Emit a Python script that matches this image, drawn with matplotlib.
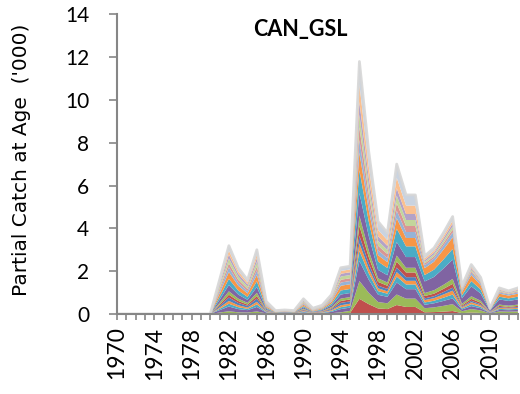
import numpy as np
import matplotlib
matplotlib.use('Agg')
from matplotlib import pyplot as plt

years = list(range(1970, 2014))
# 1970-1980 had no catch recorded
n_zero = 11

# Catch at age ('000), one list per age band for 1981-2013, youngest first
age_1 = [0.02, 0.03, 0.02, 0.02, 0.03, 0.01, 0.0, 0.0, 0.0, 0.01, 0.0, 0.0, 0.01, 0.02, 0.05,
         0.71, 0.46, 0.26, 0.23, 0.42, 0.33, 0.33,
         0.08, 0.09, 0.11, 0.14, 0.04, 0.07, 0.05, 0.01, 0.04, 0.03, 0.04]
age_2 = [0.05, 0.10, 0.06, 0.05, 0.09, 0.02, 0.0, 0.01, 0.0, 0.02, 0.01, 0.01, 0.03, 0.06, 0.10,
         0.83, 0.53, 0.30, 0.27, 0.49, 0.39, 0.39,
         0.19, 0.22, 0.27, 0.32, 0.09, 0.16, 0.12, 0.02, 0.08, 0.08, 0.08]
age_3 = [0.11, 0.22, 0.15, 0.11, 0.21, 0.04, 0.01, 0.01, 0.01, 0.05, 0.02, 0.03, 0.06, 0.15, 0.15,
         0.94, 0.61, 0.34, 0.30, 0.56, 0.44, 0.44,
         0.16, 0.19, 0.23, 0.27, 0.08, 0.14, 0.10, 0.02, 0.07, 0.07, 0.07]
age_4 = [0.06, 0.13, 0.09, 0.06, 0.12, 0.02, 0.01, 0.01, 0.01, 0.03, 0.01, 0.02, 0.04, 0.09, 0.09,
         0.47, 0.30, 0.17, 0.15, 0.28, 0.22, 0.22,
         0.11, 0.12, 0.15, 0.18, 0.05, 0.09, 0.07, 0.01, 0.05, 0.04, 0.05]
age_5 = [0.06, 0.13, 0.09, 0.06, 0.12, 0.02, 0.01, 0.01, 0.01, 0.03, 0.01, 0.02, 0.04, 0.09, 0.09,
         0.35, 0.23, 0.13, 0.11, 0.21, 0.17, 0.17,
         0.11, 0.12, 0.15, 0.18, 0.05, 0.09, 0.07, 0.01, 0.05, 0.04, 0.05]
age_6 = [0.08, 0.16, 0.11, 0.08, 0.15, 0.03, 0.01, 0.01, 0.01, 0.04, 0.01, 0.02, 0.05, 0.11, 0.11,
         0.35, 0.23, 0.13, 0.11, 0.21, 0.17, 0.17,
         0.08, 0.09, 0.11, 0.14, 0.04, 0.07, 0.05, 0.01, 0.04, 0.03, 0.04]
age_7 = [0.06, 0.13, 0.09, 0.06, 0.12, 0.02, 0.01, 0.01, 0.01, 0.03, 0.01, 0.02, 0.04, 0.09, 0.09,
         0.47, 0.30, 0.17, 0.15, 0.28, 0.22, 0.22,
         0.11, 0.12, 0.15, 0.18, 0.05, 0.09, 0.07, 0.01, 0.05, 0.04, 0.05]
age_8 = [0.08, 0.16, 0.11, 0.08, 0.15, 0.03, 0.01, 0.01, 0.01, 0.04, 0.01, 0.02, 0.05, 0.11, 0.11,
         0.47, 0.30, 0.17, 0.15, 0.28, 0.22, 0.22,
         0.14, 0.16, 0.19, 0.23, 0.07, 0.12, 0.09, 0.01, 0.06, 0.06, 0.06]
age_9 = [0.14, 0.29, 0.19, 0.14, 0.27, 0.05, 0.01, 0.02, 0.01, 0.06, 0.02, 0.04, 0.08, 0.19, 0.19,
         1.06, 0.68, 0.39, 0.34, 0.63, 0.50, 0.50,
         0.54, 0.62, 0.76, 0.90, 0.26, 0.46, 0.34, 0.05, 0.24, 0.22, 0.24]
age_10 = [0.14, 0.29, 0.19, 0.14, 0.27, 0.05, 0.01, 0.02, 0.01, 0.06, 0.02, 0.04, 0.08, 0.19, 0.19,
          1.06, 0.68, 0.39, 0.34, 0.63, 0.50, 0.50,
          0.30, 0.34, 0.42, 0.50, 0.14, 0.25, 0.19, 0.03, 0.13, 0.12, 0.13]
age_11 = [0.16, 0.32, 0.22, 0.16, 0.30, 0.06, 0.02, 0.02, 0.02, 0.07, 0.03, 0.04, 0.09, 0.22, 0.22,
          0.83, 0.53, 0.30, 0.27, 0.49, 0.39, 0.39,
          0.32, 0.37, 0.46, 0.54, 0.16, 0.28, 0.20, 0.03, 0.14, 0.13, 0.14]
age_12 = [0.11, 0.22, 0.15, 0.11, 0.21, 0.04, 0.01, 0.01, 0.01, 0.05, 0.02, 0.03, 0.06, 0.15, 0.15,
          0.59, 0.38, 0.22, 0.19, 0.35, 0.28, 0.28,
          0.14, 0.16, 0.19, 0.23, 0.07, 0.12, 0.09, 0.01, 0.06, 0.06, 0.06]
age_13 = [0.10, 0.19, 0.13, 0.10, 0.18, 0.04, 0.01, 0.01, 0.01, 0.04, 0.02, 0.02, 0.05, 0.13, 0.13,
          0.59, 0.38, 0.22, 0.19, 0.35, 0.28, 0.28,
          0.08, 0.09, 0.11, 0.14, 0.04, 0.07, 0.05, 0.01, 0.04, 0.03, 0.04]
age_14 = [0.11, 0.22, 0.15, 0.11, 0.21, 0.04, 0.01, 0.01, 0.01, 0.05, 0.02, 0.03, 0.06, 0.15, 0.15,
          0.59, 0.38, 0.22, 0.19, 0.35, 0.28, 0.28,
          0.08, 0.09, 0.11, 0.14, 0.04, 0.07, 0.05, 0.01, 0.04, 0.03, 0.04]
age_15 = [0.10, 0.19, 0.13, 0.10, 0.18, 0.04, 0.01, 0.01, 0.01, 0.04, 0.02, 0.02, 0.05, 0.13, 0.13,
          0.59, 0.38, 0.22, 0.19, 0.35, 0.28, 0.28,
          0.08, 0.09, 0.11, 0.14, 0.04, 0.07, 0.05, 0.01, 0.04, 0.03, 0.04]
age_16 = [0.10, 0.19, 0.13, 0.10, 0.18, 0.04, 0.01, 0.01, 0.01, 0.04, 0.02, 0.02, 0.05, 0.13, 0.13,
          0.83, 0.53, 0.30, 0.27, 0.49, 0.39, 0.39,
          0.08, 0.09, 0.11, 0.14, 0.04, 0.07, 0.05, 0.01, 0.04, 0.03, 0.04]
age_17 = [0.11, 0.22, 0.15, 0.11, 0.21, 0.04, 0.01, 0.01, 0.01, 0.05, 0.02, 0.03, 0.06, 0.15, 0.15,
          1.06, 0.68, 0.39, 0.34, 0.63, 0.50, 0.50,
          0.11, 0.12, 0.15, 0.18, 0.05, 0.09, 0.07, 0.01, 0.05, 0.04, 0.05]

ages = [age_1, age_2, age_3, age_4, age_5, age_6, age_7, age_8, age_9,
        age_10, age_11, age_12, age_13, age_14, age_15, age_16, age_17]

colors = ['#C0504D', '#9BBB59', '#8064A2', '#4BACC6', '#F79646', '#4F81BD',
          '#C0504D', '#9BBB59', '#8064A2', '#4BACC6', '#F79646',
          '#95B3D7', '#D99694', '#C3D69B', '#B3A2C7', '#FAC090', '#C9D3E0']

x = np.arange(len(years))
stack = np.array([[0.0] * n_zero + a for a in ages])

fig = plt.figure(figsize=(5.2, 3.94), dpi=100)
ax = fig.add_axes([0.225, 0.203, 0.771, 0.761])

ax.stackplot(x, stack, colors=colors, linewidth=0)
ax.plot(x, stack.sum(axis=0), color='#d6d6d6', linewidth=2.0, alpha=0.9)

ax.set_xlim(0, len(years) - 1)
ax.set_ylim(0, 14)
ax.set_yticks(range(0, 15, 2))
ax.set_xticks(x, minor=True)
ax.set_xticks(x[::4])
ax.set_xticklabels([str(y) for y in years[::4]], rotation=90)

for side in ['top', 'right']:
    ax.spines[side].set_visible(False)
for side in ['left', 'bottom']:
    ax.spines[side].set_color('#868686')
    ax.spines[side].set_linewidth(1.5)

ax.tick_params(axis='y', direction='out', length=6, width=1.2, color='#868686',
               labelsize=15, pad=14)
ax.tick_params(axis='x', which='both', direction='out', length=4, width=1.2, color='#868686',
               labelsize=16.5, pad=5)
for lbl in ax.get_xticklabels() + ax.get_yticklabels():
    lbl.set_family('Lato')

fig.text(0.578, 0.924, 'CAN_GSL', fontsize=15.5, fontweight='bold', family='Lato',
         ha='center', va='center')
fig.text(0.042, 0.595, "Partial Catch at Age  ('000)", rotation=90, fontsize=14.5,
         ha='center', va='center')

plt.savefig('out.png', dpi=100)
